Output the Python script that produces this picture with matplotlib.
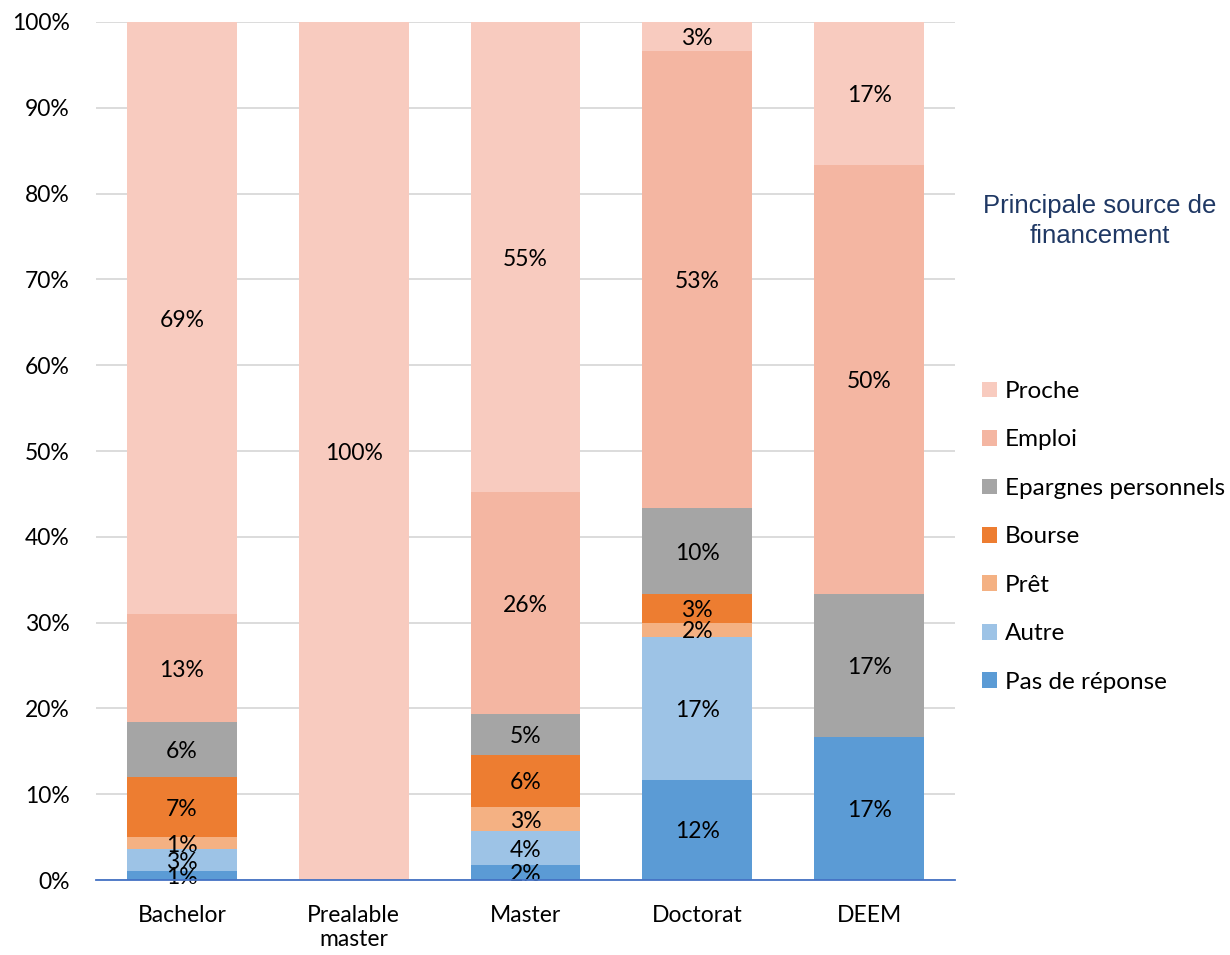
import matplotlib
matplotlib.use('Agg')
import matplotlib.pyplot as plt
import numpy as np
from matplotlib.patches import Patch

plt.rcParams['font.family'] = ['Lato', 'DejaVu Sans']

categories = ['Bachelor', 'Prealable\nmaster', 'Master', 'Doctorat', 'DEEM']
series = ['Pas de réponse', 'Autre', 'Prêt', 'Bourse', 'Epargnes personnels', 'Emploi', 'Proche']
colors = ['#5B9BD5', '#9DC3E6', '#F4B183', '#ED7D31', '#A5A5A5', '#F4B6A2', '#F8CBBF']

# part (%) de chaque source, par niveau
pas_de_reponse = [1.0, 0.0, 1.75, 11.67, 16.67]
autre = [2.6, 0.0, 3.95, 16.67, 0.0]
pret = [1.4, 0.0, 2.8, 1.67, 0.0]
bourse = [7.0, 0.0, 6.1, 3.33, 0.0]
epargnes = [6.4, 0.0, 4.7, 10.0, 16.67]
emploi = [12.6, 0.0, 25.9, 53.33, 50.0]
proche = [69.0, 100.0, 54.8, 3.33, 16.67]
values = [pas_de_reponse, autre, pret, bourse, epargnes, emploi, proche]

fig = plt.figure(figsize=(12.3, 9.55), dpi=100)
ax = fig.add_axes([96 / 1230, 1 - 880 / 955, 859 / 1230, 858 / 955])

x = np.arange(len(categories))
bottom = np.zeros(len(categories))
handles = []
for name, vals, col in zip(series, values, colors):
    vals = np.array(vals)
    ax.bar(x, vals, 0.64, bottom=bottom, color=col, zorder=2)
    for xi, v, b in zip(x, vals, bottom):
        if v > 0:
            ax.text(xi, b + v / 2, f'{v:.0f}%', ha='center', va='center_baseline',
                    fontsize=16.5, color='black', zorder=3)
    bottom += vals
    handles.append(Patch(facecolor=col, label=name))

ax.set_xlim(-0.5, len(categories) - 0.5)
ax.set_ylim(0, 100)
ax.set_yticks(np.arange(0, 101, 10))
ax.set_yticklabels([f'{t}%' for t in range(0, 101, 10)], fontsize=16.5)
ax.set_xticks(x)
ax.set_xticklabels(categories, fontsize=16.5, linespacing=1.2)
ax.tick_params(length=0)
ax.tick_params(axis='y', pad=19)
ax.tick_params(axis='x', pad=18)
ax.grid(axis='y', color='#D9D9D9', linewidth=1.3, zorder=0)
for s in ['top', 'right', 'left']:
    ax.spines[s].set_visible(False)
ax.spines['bottom'].set_color('#4472C4')
ax.spines['bottom'].set_linewidth(1.3)
ax.spines['bottom'].set_zorder(4)

fig.text(1100 / 1230, 1 - 221 / 955, 'Principale source de\nfinancement', ha='center', va='center',
         fontsize=18.5, color='#1F3864', family=['Liberation Sans', 'DejaVu Sans'], linespacing=1.3)

fig.legend(handles=handles[::-1], loc='upper left', bbox_to_anchor=(982 / 1230, 1 - 381 / 955),
           frameon=False, fontsize=17.5, handlelength=0.62, handleheight=0.62,
           handletextpad=0.32, labelspacing=1.13, borderpad=0, borderaxespad=0)

fig.savefig('out.png', dpi=100)
plt.close()
